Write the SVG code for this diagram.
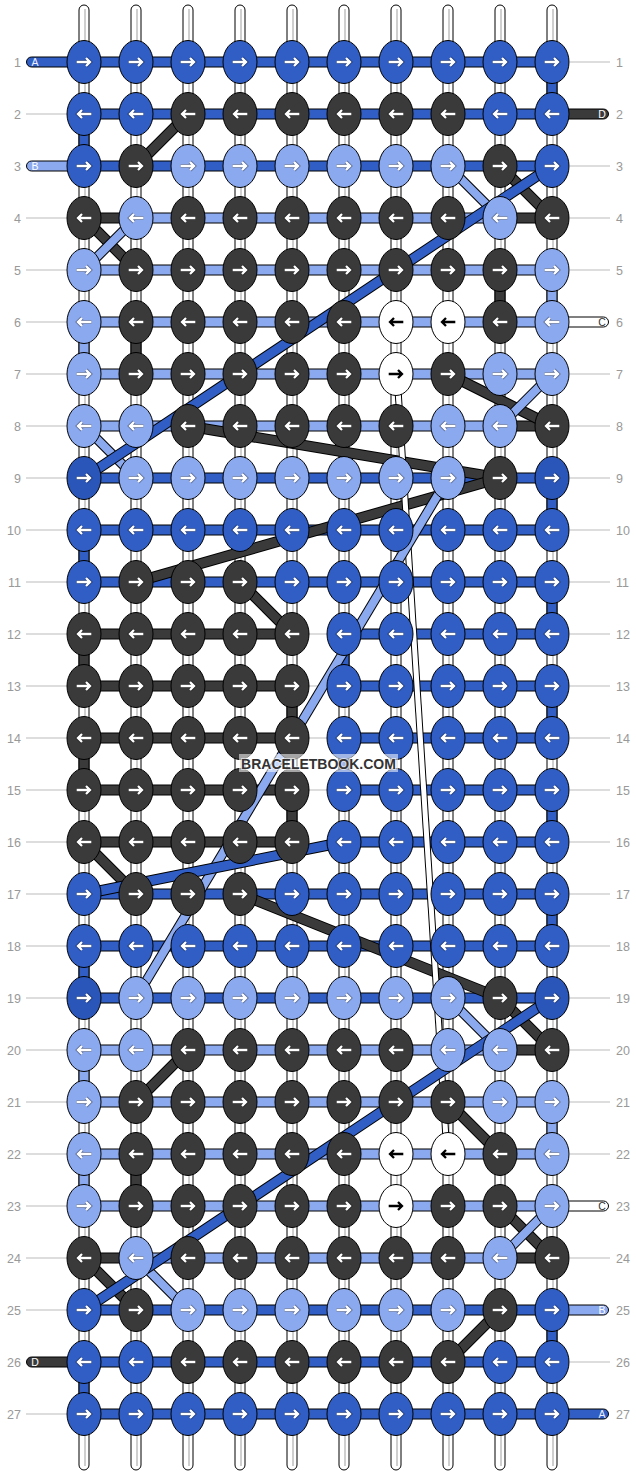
<svg xmlns="http://www.w3.org/2000/svg" xmlns:xlink="http://www.w3.org/1999/xlink" width="636" height="1476" viewBox="0 0 636 1476">
<style>
.b{fill:#305EC4}.k{fill:#3A3A3A}.l{fill:#8BA9EF}.w{fill:#fff}.d{fill:#2A55B9}
ellipse{stroke:#000;stroke-width:1}
.s{stroke:#000;stroke-width:1}
.warp{fill:#fff;stroke:#000;stroke-width:1}
.wl{stroke:#cfcfcf;stroke-width:2}
.ao{fill:none;stroke:#000;stroke-opacity:.35;stroke-width:4}
.aw{fill:none;stroke:#fff;stroke-width:2.3}
.ab{fill:none;stroke:#000;stroke-width:2.3}
.o{stroke:#000;stroke-width:11}
.oL{stroke:#000;stroke-width:10}
.cb{stroke:#305EC4;stroke-width:9}.ck{stroke:#3A3A3A;stroke-width:9}.cl{stroke:#8BA9EF;stroke-width:8}
.gl{stroke:#bbb;stroke-width:1}
.num{font-family:"Liberation Sans",Arial,sans-serif;font-size:12.5px;fill:#999}
.let{font-family:"Liberation Sans",Arial,sans-serif;font-size:10.5px;text-anchor:middle}
</style>
<defs>
<g id="R"><path class="ao" d="M-7.3 0H5.8M2 -4 6 0 2 4"/><path class="aw" d="M-7.3 0H5.8M2 -4 6 0 2 4"/></g>
<g id="L"><path class="ao" d="M7.3 0H-5.8M-2 -4 -6 0 -2 4"/><path class="aw" d="M7.3 0H-5.8M-2 -4 -6 0 -2 4"/></g>
<g id="Rb"><path class="ab" d="M-7.3 0H5.8M2 -4 6 0 2 4"/></g>
<g id="Lb"><path class="ab" d="M7.3 0H-5.8M-2 -4 -6 0 -2 4"/></g>
</defs>
<rect width="636" height="1476" fill="#fff"/>
<g id="labels">
<g class="gl">
<line x1="26" y1="114" x2="67" y2="114"/><line x1="26" y1="218" x2="67" y2="218"/><line x1="26" y1="270" x2="67" y2="270"/><line x1="26" y1="322" x2="67" y2="322"/><line x1="26" y1="374" x2="67" y2="374"/><line x1="26" y1="426" x2="67" y2="426"/><line x1="26" y1="478" x2="67" y2="478"/><line x1="26" y1="530" x2="67" y2="530"/><line x1="26" y1="582" x2="67" y2="582"/><line x1="26" y1="634" x2="67" y2="634"/><line x1="26" y1="686" x2="67" y2="686"/><line x1="26" y1="738" x2="67" y2="738"/><line x1="26" y1="790" x2="67" y2="790"/><line x1="26" y1="842" x2="67" y2="842"/><line x1="26" y1="894" x2="67" y2="894"/><line x1="26" y1="946" x2="67" y2="946"/><line x1="26" y1="998" x2="67" y2="998"/><line x1="26" y1="1050" x2="67" y2="1050"/><line x1="26" y1="1102" x2="67" y2="1102"/><line x1="26" y1="1154" x2="67" y2="1154"/><line x1="26" y1="1206" x2="67" y2="1206"/><line x1="26" y1="1258" x2="67" y2="1258"/><line x1="26" y1="1310" x2="67" y2="1310"/><line x1="26" y1="1414" x2="67" y2="1414"/>
<line x1="570" y1="62" x2="610" y2="62"/><line x1="570" y1="166" x2="610" y2="166"/><line x1="570" y1="218" x2="610" y2="218"/><line x1="570" y1="270" x2="610" y2="270"/><line x1="570" y1="374" x2="610" y2="374"/><line x1="570" y1="426" x2="610" y2="426"/><line x1="570" y1="478" x2="610" y2="478"/><line x1="570" y1="530" x2="610" y2="530"/><line x1="570" y1="582" x2="610" y2="582"/><line x1="570" y1="634" x2="610" y2="634"/><line x1="570" y1="686" x2="610" y2="686"/><line x1="570" y1="738" x2="610" y2="738"/><line x1="570" y1="790" x2="610" y2="790"/><line x1="570" y1="842" x2="610" y2="842"/><line x1="570" y1="894" x2="610" y2="894"/><line x1="570" y1="946" x2="610" y2="946"/><line x1="570" y1="998" x2="610" y2="998"/><line x1="570" y1="1050" x2="610" y2="1050"/><line x1="570" y1="1102" x2="610" y2="1102"/><line x1="570" y1="1154" x2="610" y2="1154"/><line x1="570" y1="1258" x2="610" y2="1258"/><line x1="570" y1="1362" x2="610" y2="1362"/>
</g>
<g class="num" text-anchor="end">
<text x="21" y="66.5">1</text><text x="21" y="118.5">2</text><text x="21" y="170.5">3</text><text x="21" y="222.5">4</text><text x="21" y="274.5">5</text><text x="21" y="326.5">6</text><text x="21" y="378.5">7</text><text x="21" y="430.5">8</text><text x="21" y="482.5">9</text><text x="21" y="534.5">10</text><text x="21" y="586.5">11</text><text x="21" y="638.5">12</text><text x="21" y="690.5">13</text><text x="21" y="742.5">14</text><text x="21" y="794.5">15</text><text x="21" y="846.5">16</text><text x="21" y="898.5">17</text><text x="21" y="950.5">18</text><text x="21" y="1002.5">19</text><text x="21" y="1054.5">20</text><text x="21" y="1106.5">21</text><text x="21" y="1158.5">22</text><text x="21" y="1210.5">23</text><text x="21" y="1262.5">24</text><text x="21" y="1314.5">25</text><text x="21" y="1366.5">26</text><text x="21" y="1418.5">27</text>
</g>
<g class="num">
<text x="616" y="66.5">1</text><text x="616" y="118.5">2</text><text x="616" y="170.5">3</text><text x="616" y="222.5">4</text><text x="616" y="274.5">5</text><text x="616" y="326.5">6</text><text x="616" y="378.5">7</text><text x="616" y="430.5">8</text><text x="616" y="482.5">9</text><text x="616" y="534.5">10</text><text x="616" y="586.5">11</text><text x="616" y="638.5">12</text><text x="616" y="690.5">13</text><text x="616" y="742.5">14</text><text x="616" y="794.5">15</text><text x="616" y="846.5">16</text><text x="616" y="898.5">17</text><text x="616" y="950.5">18</text><text x="616" y="1002.5">19</text><text x="616" y="1054.5">20</text><text x="616" y="1106.5">21</text><text x="616" y="1158.5">22</text><text x="616" y="1210.5">23</text><text x="616" y="1262.5">24</text><text x="616" y="1314.5">25</text><text x="616" y="1366.5">26</text><text x="616" y="1418.5">27</text>
</g>
</g>
<g id="connectors">
<g id="warps">
<rect class="warp" x="79" y="5" width="10" height="1465" rx="5"/><rect class="warp" x="131" y="5" width="10" height="1465" rx="5"/><rect class="warp" x="183" y="5" width="10" height="1465" rx="5"/><rect class="warp" x="235" y="5" width="10" height="1465" rx="5"/><rect class="warp" x="287" y="5" width="10" height="1465" rx="5"/><rect class="warp" x="339" y="5" width="10" height="1465" rx="5"/><rect class="warp" x="391" y="5" width="10" height="1465" rx="5"/><rect class="warp" x="443" y="5" width="10" height="1465" rx="5"/><rect class="warp" x="495" y="5" width="10" height="1465" rx="5"/><rect class="warp" x="547" y="5" width="10" height="1465" rx="5"/>
<g class="wl"><line x1="85" y1="9" x2="85" y2="1466"/><line x1="137" y1="9" x2="137" y2="1466"/><line x1="189" y1="9" x2="189" y2="1466"/><line x1="241" y1="9" x2="241" y2="1466"/><line x1="293" y1="9" x2="293" y2="1466"/><line x1="345" y1="9" x2="345" y2="1466"/><line x1="397" y1="9" x2="397" y2="1466"/><line x1="449" y1="9" x2="449" y2="1466"/><line x1="501" y1="9" x2="501" y2="1466"/><line x1="553" y1="9" x2="553" y2="1466"/></g>
</g>
<g id="ends">
<rect class="b s" x="26.5" y="57" width="60" height="10" rx="5"/><text class="let" x="35" y="65.8" fill="#eef">A</text>
<rect class="l s" x="26.5" y="161" width="60" height="10" rx="5"/><text class="let" x="35" y="169.8" fill="#fff">B</text>
<rect class="k s" x="26.5" y="1357" width="60" height="10" rx="5"/><text class="let" x="35" y="1365.8" fill="#fff">D</text>
<rect class="k s" x="549" y="109" width="59.5" height="10" rx="5"/><text class="let" x="602" y="117.8" fill="#fff">D</text>
<rect class="w s" x="549" y="317" width="59.5" height="10" rx="5"/><text class="let" x="602" y="325.8" fill="#333">C</text>
<rect class="w s" x="549" y="1201" width="59.5" height="10" rx="5"/><text class="let" x="602" y="1209.8" fill="#333">C</text>
<rect class="l s" x="549" y="1305" width="59.5" height="10" rx="5"/><text class="let" x="602" y="1313.8" fill="#fff">B</text>
<rect class="b s" x="549" y="1409" width="59.5" height="10" rx="5"/><text class="let" x="602" y="1417.8" fill="#eef">A</text>
</g>
<g id="rows">
<rect class="b s" x="84" y="57" width="468" height="10"/>
<rect class="b s" x="84" y="109" width="468" height="10"/>
<rect class="b s" x="84" y="161" width="468" height="10"/>
<rect class="k s" x="84" y="213" width="52" height="10"/><rect class="l s" x="136" y="213" width="364" height="10"/><rect class="k s" x="500" y="213" width="52" height="10"/>
<rect class="l s" x="84" y="265" width="468" height="10"/>
<rect class="l s" x="84" y="317" width="468" height="10"/>
<rect class="l s" x="84" y="369" width="468" height="10"/>
<rect class="l s" x="84" y="421" width="416" height="10"/><rect class="k s" x="500" y="421" width="52" height="10"/>
<rect class="b s" x="84" y="473" width="468" height="10"/>
<rect class="b s" x="84" y="525" width="468" height="10"/>
<rect class="b s" x="84" y="577" width="468" height="10"/>
<rect class="k s" x="84" y="629" width="208" height="10"/><rect class="b s" x="344" y="629" width="208" height="10"/>
<rect class="k s" x="84" y="681" width="208" height="10"/><rect class="b s" x="344" y="681" width="208" height="10"/>
<rect class="k s" x="84" y="733" width="208" height="10"/><rect class="b s" x="344" y="733" width="208" height="10"/>
<rect class="k s" x="84" y="785" width="208" height="10"/><rect class="b s" x="344" y="785" width="208" height="10"/>
<rect class="k s" x="84" y="837" width="208" height="10"/><rect class="b s" x="344" y="837" width="208" height="10"/>
<g class="gl"><line x1="292" y1="634" x2="344" y2="634"/><line x1="292" y1="686" x2="344" y2="686"/><line x1="292" y1="738" x2="344" y2="738"/><line x1="292" y1="790" x2="344" y2="790"/></g>
<rect class="b s" x="84" y="889" width="468" height="10"/>
<rect class="b s" x="84" y="941" width="468" height="10"/>
<rect class="b s" x="84" y="993" width="468" height="10"/>
<rect class="l s" x="84" y="1045" width="416" height="10"/><rect class="k s" x="500" y="1045" width="52" height="10"/>
<rect class="l s" x="84" y="1097" width="468" height="10"/>
<rect class="l s" x="84" y="1149" width="468" height="10"/>
<rect class="l s" x="84" y="1201" width="468" height="10"/>
<rect class="k s" x="84" y="1253" width="52" height="10"/><rect class="l s" x="136" y="1253" width="364" height="10"/><rect class="k s" x="500" y="1253" width="52" height="10"/>
<rect class="b s" x="84" y="1305" width="468" height="10"/>
<rect class="b s" x="84" y="1357" width="468" height="10"/>
<rect class="b s" x="84" y="1409" width="468" height="10"/>
</g>
<g id="verticals">
<rect class="b s" x="547" y="62" width="10" height="52"/>
<rect class="b s" x="79" y="114" width="10" height="52"/>
<rect class="k s" x="495" y="270" width="10" height="52"/>
<rect class="l s" x="547" y="270" width="10" height="52"/>
<rect class="l s" x="79" y="322" width="10" height="52"/>
<rect class="k s" x="131" y="322" width="10" height="52"/>
<rect class="b s" x="547" y="478" width="10" height="52"/>
<rect class="b s" x="79" y="530" width="10" height="52"/>
<rect class="b s" x="547" y="582" width="10" height="52"/>
<rect class="k s" x="79" y="634" width="10" height="52"/>
<rect class="b s" x="339" y="634" width="10" height="52"/>
<rect class="k s" x="287" y="686" width="10" height="52"/>
<rect class="b s" x="547" y="686" width="10" height="52"/>
<rect class="k s" x="79" y="738" width="10" height="52"/>
<rect class="b s" x="339" y="738" width="10" height="52"/>
<rect class="k s" x="287" y="790" width="10" height="52"/>
<rect class="b s" x="547" y="790" width="10" height="52"/>
<rect class="b s" x="547" y="894" width="10" height="52"/>
<rect class="b s" x="79" y="946" width="10" height="52"/>
<rect class="l s" x="79" y="1050" width="10" height="52"/>
<rect class="l s" x="547" y="1102" width="10" height="52"/>
<rect class="l s" x="79" y="1154" width="10" height="52"/>
<rect class="k s" x="131" y="1154" width="10" height="52"/>
<rect class="b s" x="547" y="1310" width="10" height="52"/>
<rect class="b s" x="79" y="1362" width="10" height="52"/>
</g>
<g id="diagonals">
<line class="o" x1="188" y1="114" x2="136" y2="166"/><line class="ck" x1="188" y1="114" x2="136" y2="166"/>
<line class="o" x1="500" y1="166" x2="552" y2="218"/><line class="ck" x1="500" y1="166" x2="552" y2="218"/>
<line class="o" x1="84" y1="218" x2="136" y2="270"/><line class="ck" x1="84" y1="218" x2="136" y2="270"/>
<line class="o" x1="448" y1="374" x2="552" y2="426"/><line class="ck" x1="448" y1="374" x2="552" y2="426"/>
<line class="o" x1="188" y1="426" x2="500" y2="478"/><line class="ck" x1="188" y1="426" x2="500" y2="478"/>
<line class="o" x1="500" y1="478" x2="136" y2="582"/><line class="ck" x1="500" y1="478" x2="136" y2="582"/>
<line class="o" x1="240" y1="582" x2="292" y2="634"/><line class="ck" x1="240" y1="582" x2="292" y2="634"/>
<line class="o" x1="84" y1="842" x2="136" y2="894"/><line class="ck" x1="84" y1="842" x2="136" y2="894"/>
<line class="o" x1="240" y1="894" x2="500" y2="998"/><line class="ck" x1="240" y1="894" x2="500" y2="998"/>
<line class="o" x1="500" y1="998" x2="552" y2="1050"/><line class="ck" x1="500" y1="998" x2="552" y2="1050"/>
<line class="o" x1="188" y1="1050" x2="136" y2="1102"/><line class="ck" x1="188" y1="1050" x2="136" y2="1102"/>
<line class="o" x1="448" y1="1102" x2="500" y2="1154"/><line class="ck" x1="448" y1="1102" x2="500" y2="1154"/>
<line class="o" x1="500" y1="1206" x2="552" y2="1258"/><line class="ck" x1="500" y1="1206" x2="552" y2="1258"/>
<line class="o" x1="84" y1="1258" x2="136" y2="1310"/><line class="ck" x1="84" y1="1258" x2="136" y2="1310"/>
<line class="o" x1="500" y1="1310" x2="448" y2="1362"/><line class="ck" x1="500" y1="1310" x2="448" y2="1362"/>
<line stroke="#000" stroke-width="7" x1="397" y1="374" x2="447" y2="1154"/><line stroke="#fff" stroke-width="5" x1="397" y1="374" x2="447" y2="1154"/>
<line class="oL" x1="448" y1="166" x2="500" y2="218"/><line class="cl" x1="448" y1="166" x2="500" y2="218"/>
<line class="oL" x1="136" y1="218" x2="84" y2="270"/><line class="cl" x1="136" y1="218" x2="84" y2="270"/>
<line class="oL" x1="552" y1="374" x2="500" y2="426"/><line class="cl" x1="552" y1="374" x2="500" y2="426"/>
<line class="oL" x1="84" y1="426" x2="136" y2="478"/><line class="cl" x1="84" y1="426" x2="136" y2="478"/>
<line class="oL" x1="448" y1="478" x2="136" y2="998"/><line class="cl" x1="448" y1="478" x2="136" y2="998"/>
<line class="oL" x1="448" y1="998" x2="500" y2="1050"/><line class="cl" x1="448" y1="998" x2="500" y2="1050"/>
<line class="oL" x1="552" y1="1206" x2="500" y2="1258"/><line class="cl" x1="552" y1="1206" x2="500" y2="1258"/>
<line class="oL" x1="136" y1="1258" x2="188" y2="1310"/><line class="cl" x1="136" y1="1258" x2="188" y2="1310"/>
<line class="o" x1="552" y1="166" x2="84" y2="478"/><line class="cb" x1="552" y1="166" x2="84" y2="478"/>
<line class="o" x1="344" y1="842" x2="84" y2="894"/><line class="cb" x1="344" y1="842" x2="84" y2="894"/>
<line class="o" x1="552" y1="998" x2="84" y2="1310"/><line class="cb" x1="552" y1="998" x2="84" y2="1310"/>
</g>
</g>
<g id="knots">
<g id="k1-1"><ellipse class="b" cx="84" cy="62" rx="17" ry="21.5"/><use href="#R" x="84" y="62"/></g>
<g id="k1-2"><ellipse class="b" cx="136" cy="62" rx="17" ry="21.5"/><use href="#R" x="136" y="62"/></g>
<g id="k1-3"><ellipse class="b" cx="188" cy="62" rx="17" ry="21.5"/><use href="#R" x="188" y="62"/></g>
<g id="k1-4"><ellipse class="b" cx="240" cy="62" rx="17" ry="21.5"/><use href="#R" x="240" y="62"/></g>
<g id="k1-5"><ellipse class="b" cx="292" cy="62" rx="17" ry="21.5"/><use href="#R" x="292" y="62"/></g>
<g id="k1-6"><ellipse class="b" cx="344" cy="62" rx="17" ry="21.5"/><use href="#R" x="344" y="62"/></g>
<g id="k1-7"><ellipse class="b" cx="396" cy="62" rx="17" ry="21.5"/><use href="#R" x="396" y="62"/></g>
<g id="k1-8"><ellipse class="b" cx="448" cy="62" rx="17" ry="21.5"/><use href="#R" x="448" y="62"/></g>
<g id="k1-9"><ellipse class="b" cx="500" cy="62" rx="17" ry="21.5"/><use href="#R" x="500" y="62"/></g>
<g id="k1-10"><ellipse class="b" cx="552" cy="62" rx="17" ry="21.5"/><use href="#R" x="552" y="62"/></g>
<g id="k2-1"><ellipse class="b" cx="84" cy="114" rx="17" ry="21.5"/><use href="#L" x="84" y="114"/></g>
<g id="k2-2"><ellipse class="b" cx="136" cy="114" rx="17" ry="21.5"/><use href="#L" x="136" y="114"/></g>
<g id="k2-3"><ellipse class="k" cx="188" cy="114" rx="17" ry="21.5"/><use href="#L" x="188" y="114"/></g>
<g id="k2-4"><ellipse class="k" cx="240" cy="114" rx="17" ry="21.5"/><use href="#L" x="240" y="114"/></g>
<g id="k2-5"><ellipse class="k" cx="292" cy="114" rx="17" ry="21.5"/><use href="#L" x="292" y="114"/></g>
<g id="k2-6"><ellipse class="k" cx="344" cy="114" rx="17" ry="21.5"/><use href="#L" x="344" y="114"/></g>
<g id="k2-7"><ellipse class="k" cx="396" cy="114" rx="17" ry="21.5"/><use href="#L" x="396" y="114"/></g>
<g id="k2-8"><ellipse class="k" cx="448" cy="114" rx="17" ry="21.5"/><use href="#L" x="448" y="114"/></g>
<g id="k2-9"><ellipse class="b" cx="500" cy="114" rx="17" ry="21.5"/><use href="#L" x="500" y="114"/></g>
<g id="k2-10"><ellipse class="b" cx="552" cy="114" rx="17" ry="21.5"/><use href="#L" x="552" y="114"/></g>
<g id="k3-1"><ellipse class="b" cx="84" cy="166" rx="17" ry="21.5"/><use href="#R" x="84" y="166"/></g>
<g id="k3-2"><ellipse class="k" cx="136" cy="166" rx="17" ry="21.5"/><use href="#R" x="136" y="166"/></g>
<g id="k3-3"><ellipse class="l" cx="188" cy="166" rx="17" ry="21.5"/><use href="#R" x="188" y="166"/></g>
<g id="k3-4"><ellipse class="l" cx="240" cy="166" rx="17" ry="21.5"/><use href="#R" x="240" y="166"/></g>
<g id="k3-5"><ellipse class="l" cx="292" cy="166" rx="17" ry="21.5"/><use href="#R" x="292" y="166"/></g>
<g id="k3-6"><ellipse class="l" cx="344" cy="166" rx="17" ry="21.5"/><use href="#R" x="344" y="166"/></g>
<g id="k3-7"><ellipse class="l" cx="396" cy="166" rx="17" ry="21.5"/><use href="#R" x="396" y="166"/></g>
<g id="k3-8"><ellipse class="l" cx="448" cy="166" rx="17" ry="21.5"/><use href="#R" x="448" y="166"/></g>
<g id="k3-9"><ellipse class="k" cx="500" cy="166" rx="17" ry="21.5"/><use href="#R" x="500" y="166"/></g>
<g id="k3-10"><ellipse class="b" cx="552" cy="166" rx="17" ry="21.5"/><use href="#R" x="552" y="166"/></g>
<g id="k4-1"><ellipse class="k" cx="84" cy="218" rx="17" ry="21.5"/><use href="#L" x="84" y="218"/></g>
<g id="k4-2"><ellipse class="l" cx="136" cy="218" rx="17" ry="21.5"/><use href="#L" x="136" y="218"/></g>
<g id="k4-3"><ellipse class="k" cx="188" cy="218" rx="17" ry="21.5"/><use href="#L" x="188" y="218"/></g>
<g id="k4-4"><ellipse class="k" cx="240" cy="218" rx="17" ry="21.5"/><use href="#L" x="240" y="218"/></g>
<g id="k4-5"><ellipse class="k" cx="292" cy="218" rx="17" ry="21.5"/><use href="#L" x="292" y="218"/></g>
<g id="k4-6"><ellipse class="k" cx="344" cy="218" rx="17" ry="21.5"/><use href="#L" x="344" y="218"/></g>
<g id="k4-7"><ellipse class="k" cx="396" cy="218" rx="17" ry="21.5"/><use href="#L" x="396" y="218"/></g>
<g id="k4-8"><ellipse class="k" cx="448" cy="218" rx="17" ry="21.5"/><use href="#L" x="448" y="218"/></g>
<g id="k4-9"><ellipse class="l" cx="500" cy="218" rx="17" ry="21.5"/><use href="#L" x="500" y="218"/></g>
<g id="k4-10"><ellipse class="k" cx="552" cy="218" rx="17" ry="21.5"/><use href="#L" x="552" y="218"/></g>
<g id="k5-1"><ellipse class="l" cx="84" cy="270" rx="17" ry="21.5"/><use href="#R" x="84" y="270"/></g>
<g id="k5-2"><ellipse class="k" cx="136" cy="270" rx="17" ry="21.5"/><use href="#R" x="136" y="270"/></g>
<g id="k5-3"><ellipse class="k" cx="188" cy="270" rx="17" ry="21.5"/><use href="#R" x="188" y="270"/></g>
<g id="k5-4"><ellipse class="k" cx="240" cy="270" rx="17" ry="21.5"/><use href="#R" x="240" y="270"/></g>
<g id="k5-5"><ellipse class="k" cx="292" cy="270" rx="17" ry="21.5"/><use href="#R" x="292" y="270"/></g>
<g id="k5-6"><ellipse class="k" cx="344" cy="270" rx="17" ry="21.5"/><use href="#R" x="344" y="270"/></g>
<g id="k5-7"><ellipse class="k" cx="396" cy="270" rx="17" ry="21.5"/><use href="#R" x="396" y="270"/></g>
<g id="k5-8"><ellipse class="k" cx="448" cy="270" rx="17" ry="21.5"/><use href="#R" x="448" y="270"/></g>
<g id="k5-9"><ellipse class="k" cx="500" cy="270" rx="17" ry="21.5"/><use href="#R" x="500" y="270"/></g>
<g id="k5-10"><ellipse class="l" cx="552" cy="270" rx="17" ry="21.5"/><use href="#R" x="552" y="270"/></g>
<g id="k6-1"><ellipse class="l" cx="84" cy="322" rx="17" ry="21.5"/><use href="#L" x="84" y="322"/></g>
<g id="k6-2"><ellipse class="k" cx="136" cy="322" rx="17" ry="21.5"/><use href="#L" x="136" y="322"/></g>
<g id="k6-3"><ellipse class="k" cx="188" cy="322" rx="17" ry="21.5"/><use href="#L" x="188" y="322"/></g>
<g id="k6-4"><ellipse class="k" cx="240" cy="322" rx="17" ry="21.5"/><use href="#L" x="240" y="322"/></g>
<g id="k6-5"><ellipse class="k" cx="292" cy="322" rx="17" ry="21.5"/><use href="#L" x="292" y="322"/></g>
<g id="k6-6"><ellipse class="k" cx="344" cy="322" rx="17" ry="21.5"/><use href="#L" x="344" y="322"/></g>
<g id="k6-7"><ellipse class="w" cx="396" cy="322" rx="17" ry="21.5"/><use href="#Lb" x="396" y="322"/></g>
<g id="k6-8"><ellipse class="w" cx="448" cy="322" rx="17" ry="21.5"/><use href="#Lb" x="448" y="322"/></g>
<g id="k6-9"><ellipse class="k" cx="500" cy="322" rx="17" ry="21.5"/><use href="#L" x="500" y="322"/></g>
<g id="k6-10"><ellipse class="l" cx="552" cy="322" rx="17" ry="21.5"/><use href="#L" x="552" y="322"/></g>
<g id="k7-1"><ellipse class="l" cx="84" cy="374" rx="17" ry="21.5"/><use href="#R" x="84" y="374"/></g>
<g id="k7-2"><ellipse class="k" cx="136" cy="374" rx="17" ry="21.5"/><use href="#R" x="136" y="374"/></g>
<g id="k7-3"><ellipse class="k" cx="188" cy="374" rx="17" ry="21.5"/><use href="#R" x="188" y="374"/></g>
<g id="k7-4"><ellipse class="k" cx="240" cy="374" rx="17" ry="21.5"/><use href="#R" x="240" y="374"/></g>
<g id="k7-5"><ellipse class="k" cx="292" cy="374" rx="17" ry="21.5"/><use href="#R" x="292" y="374"/></g>
<g id="k7-6"><ellipse class="k" cx="344" cy="374" rx="17" ry="21.5"/><use href="#R" x="344" y="374"/></g>
<g id="k7-7"><ellipse class="w" cx="396" cy="374" rx="17" ry="21.5"/><use href="#Rb" x="396" y="374"/></g>
<g id="k7-8"><ellipse class="k" cx="448" cy="374" rx="17" ry="21.5"/><use href="#R" x="448" y="374"/></g>
<g id="k7-9"><ellipse class="l" cx="500" cy="374" rx="17" ry="21.5"/><use href="#R" x="500" y="374"/></g>
<g id="k7-10"><ellipse class="l" cx="552" cy="374" rx="17" ry="21.5"/><use href="#R" x="552" y="374"/></g>
<g id="k8-1"><ellipse class="l" cx="84" cy="426" rx="17" ry="21.5"/><use href="#L" x="84" y="426"/></g>
<g id="k8-2"><ellipse class="l" cx="136" cy="426" rx="17" ry="21.5"/><use href="#L" x="136" y="426"/></g>
<g id="k8-3"><ellipse class="k" cx="188" cy="426" rx="17" ry="21.5"/><use href="#L" x="188" y="426"/></g>
<g id="k8-4"><ellipse class="k" cx="240" cy="426" rx="17" ry="21.5"/><use href="#L" x="240" y="426"/></g>
<g id="k8-5"><ellipse class="k" cx="292" cy="426" rx="17" ry="21.5"/><use href="#L" x="292" y="426"/></g>
<g id="k8-6"><ellipse class="k" cx="344" cy="426" rx="17" ry="21.5"/><use href="#L" x="344" y="426"/></g>
<g id="k8-7"><ellipse class="k" cx="396" cy="426" rx="17" ry="21.5"/><use href="#L" x="396" y="426"/></g>
<g id="k8-8"><ellipse class="l" cx="448" cy="426" rx="17" ry="21.5"/><use href="#L" x="448" y="426"/></g>
<g id="k8-9"><ellipse class="l" cx="500" cy="426" rx="17" ry="21.5"/><use href="#L" x="500" y="426"/></g>
<g id="k8-10"><ellipse class="k" cx="552" cy="426" rx="17" ry="21.5"/><use href="#L" x="552" y="426"/></g>
<g id="k9-1"><ellipse class="d" cx="84" cy="478" rx="17" ry="21.5"/><use href="#R" x="84" y="478"/></g>
<g id="k9-2"><ellipse class="l" cx="136" cy="478" rx="17" ry="21.5"/><use href="#R" x="136" y="478"/></g>
<g id="k9-3"><ellipse class="l" cx="188" cy="478" rx="17" ry="21.5"/><use href="#R" x="188" y="478"/></g>
<g id="k9-4"><ellipse class="l" cx="240" cy="478" rx="17" ry="21.5"/><use href="#R" x="240" y="478"/></g>
<g id="k9-5"><ellipse class="l" cx="292" cy="478" rx="17" ry="21.5"/><use href="#R" x="292" y="478"/></g>
<g id="k9-6"><ellipse class="l" cx="344" cy="478" rx="17" ry="21.5"/><use href="#R" x="344" y="478"/></g>
<g id="k9-7"><ellipse class="l" cx="396" cy="478" rx="17" ry="21.5"/><use href="#R" x="396" y="478"/></g>
<g id="k9-8"><ellipse class="l" cx="448" cy="478" rx="17" ry="21.5"/><use href="#R" x="448" y="478"/></g>
<g id="k9-9"><ellipse class="k" cx="500" cy="478" rx="17" ry="21.5"/><use href="#R" x="500" y="478"/></g>
<g id="k9-10"><ellipse class="d" cx="552" cy="478" rx="17" ry="21.5"/><use href="#R" x="552" y="478"/></g>
<g id="k10-1"><ellipse class="b" cx="84" cy="530" rx="17" ry="21.5"/><use href="#L" x="84" y="530"/></g>
<g id="k10-2"><ellipse class="b" cx="136" cy="530" rx="17" ry="21.5"/><use href="#L" x="136" y="530"/></g>
<g id="k10-3"><ellipse class="b" cx="188" cy="530" rx="17" ry="21.5"/><use href="#L" x="188" y="530"/></g>
<g id="k10-4"><ellipse class="b" cx="240" cy="530" rx="17" ry="21.5"/><use href="#L" x="240" y="530"/></g>
<g id="k10-5"><ellipse class="b" cx="292" cy="530" rx="17" ry="21.5"/><use href="#L" x="292" y="530"/></g>
<g id="k10-6"><ellipse class="b" cx="344" cy="530" rx="17" ry="21.5"/><use href="#L" x="344" y="530"/></g>
<g id="k10-7"><ellipse class="b" cx="396" cy="530" rx="17" ry="21.5"/><use href="#L" x="396" y="530"/></g>
<g id="k10-8"><ellipse class="b" cx="448" cy="530" rx="17" ry="21.5"/><use href="#L" x="448" y="530"/></g>
<g id="k10-9"><ellipse class="b" cx="500" cy="530" rx="17" ry="21.5"/><use href="#L" x="500" y="530"/></g>
<g id="k10-10"><ellipse class="b" cx="552" cy="530" rx="17" ry="21.5"/><use href="#L" x="552" y="530"/></g>
<g id="k11-1"><ellipse class="b" cx="84" cy="582" rx="17" ry="21.5"/><use href="#R" x="84" y="582"/></g>
<g id="k11-2"><ellipse class="k" cx="136" cy="582" rx="17" ry="21.5"/><use href="#R" x="136" y="582"/></g>
<g id="k11-3"><ellipse class="k" cx="188" cy="582" rx="17" ry="21.5"/><use href="#R" x="188" y="582"/></g>
<g id="k11-4"><ellipse class="k" cx="240" cy="582" rx="17" ry="21.5"/><use href="#R" x="240" y="582"/></g>
<g id="k11-5"><ellipse class="b" cx="292" cy="582" rx="17" ry="21.5"/><use href="#R" x="292" y="582"/></g>
<g id="k11-6"><ellipse class="b" cx="344" cy="582" rx="17" ry="21.5"/><use href="#R" x="344" y="582"/></g>
<g id="k11-7"><ellipse class="b" cx="396" cy="582" rx="17" ry="21.5"/><use href="#R" x="396" y="582"/></g>
<g id="k11-8"><ellipse class="b" cx="448" cy="582" rx="17" ry="21.5"/><use href="#R" x="448" y="582"/></g>
<g id="k11-9"><ellipse class="b" cx="500" cy="582" rx="17" ry="21.5"/><use href="#R" x="500" y="582"/></g>
<g id="k11-10"><ellipse class="b" cx="552" cy="582" rx="17" ry="21.5"/><use href="#R" x="552" y="582"/></g>
<g id="k12-1"><ellipse class="k" cx="84" cy="634" rx="17" ry="21.5"/><use href="#L" x="84" y="634"/></g>
<g id="k12-2"><ellipse class="k" cx="136" cy="634" rx="17" ry="21.5"/><use href="#L" x="136" y="634"/></g>
<g id="k12-3"><ellipse class="k" cx="188" cy="634" rx="17" ry="21.5"/><use href="#L" x="188" y="634"/></g>
<g id="k12-4"><ellipse class="k" cx="240" cy="634" rx="17" ry="21.5"/><use href="#L" x="240" y="634"/></g>
<g id="k12-5"><ellipse class="k" cx="292" cy="634" rx="17" ry="21.5"/><use href="#L" x="292" y="634"/></g>
<g id="k12-6"><ellipse class="b" cx="344" cy="634" rx="17" ry="21.5"/><use href="#L" x="344" y="634"/></g>
<g id="k12-7"><ellipse class="b" cx="396" cy="634" rx="17" ry="21.5"/><use href="#L" x="396" y="634"/></g>
<g id="k12-8"><ellipse class="b" cx="448" cy="634" rx="17" ry="21.5"/><use href="#L" x="448" y="634"/></g>
<g id="k12-9"><ellipse class="b" cx="500" cy="634" rx="17" ry="21.5"/><use href="#L" x="500" y="634"/></g>
<g id="k12-10"><ellipse class="b" cx="552" cy="634" rx="17" ry="21.5"/><use href="#L" x="552" y="634"/></g>
<g id="k13-1"><ellipse class="k" cx="84" cy="686" rx="17" ry="21.5"/><use href="#R" x="84" y="686"/></g>
<g id="k13-2"><ellipse class="k" cx="136" cy="686" rx="17" ry="21.5"/><use href="#R" x="136" y="686"/></g>
<g id="k13-3"><ellipse class="k" cx="188" cy="686" rx="17" ry="21.5"/><use href="#R" x="188" y="686"/></g>
<g id="k13-4"><ellipse class="k" cx="240" cy="686" rx="17" ry="21.5"/><use href="#R" x="240" y="686"/></g>
<g id="k13-5"><ellipse class="k" cx="292" cy="686" rx="17" ry="21.5"/><use href="#R" x="292" y="686"/></g>
<g id="k13-6"><ellipse class="b" cx="344" cy="686" rx="17" ry="21.5"/><use href="#R" x="344" y="686"/></g>
<g id="k13-7"><ellipse class="b" cx="396" cy="686" rx="17" ry="21.5"/><use href="#R" x="396" y="686"/></g>
<g id="k13-8"><ellipse class="b" cx="448" cy="686" rx="17" ry="21.5"/><use href="#R" x="448" y="686"/></g>
<g id="k13-9"><ellipse class="b" cx="500" cy="686" rx="17" ry="21.5"/><use href="#R" x="500" y="686"/></g>
<g id="k13-10"><ellipse class="b" cx="552" cy="686" rx="17" ry="21.5"/><use href="#R" x="552" y="686"/></g>
<g id="k14-1"><ellipse class="k" cx="84" cy="738" rx="17" ry="21.5"/><use href="#L" x="84" y="738"/></g>
<g id="k14-2"><ellipse class="k" cx="136" cy="738" rx="17" ry="21.5"/><use href="#L" x="136" y="738"/></g>
<g id="k14-3"><ellipse class="k" cx="188" cy="738" rx="17" ry="21.5"/><use href="#L" x="188" y="738"/></g>
<g id="k14-4"><ellipse class="k" cx="240" cy="738" rx="17" ry="21.5"/><use href="#L" x="240" y="738"/></g>
<g id="k14-5"><ellipse class="k" cx="292" cy="738" rx="17" ry="21.5"/><use href="#L" x="292" y="738"/></g>
<g id="k14-6"><ellipse class="b" cx="344" cy="738" rx="17" ry="21.5"/><use href="#L" x="344" y="738"/></g>
<g id="k14-7"><ellipse class="b" cx="396" cy="738" rx="17" ry="21.5"/><use href="#L" x="396" y="738"/></g>
<g id="k14-8"><ellipse class="b" cx="448" cy="738" rx="17" ry="21.5"/><use href="#L" x="448" y="738"/></g>
<g id="k14-9"><ellipse class="b" cx="500" cy="738" rx="17" ry="21.5"/><use href="#L" x="500" y="738"/></g>
<g id="k14-10"><ellipse class="b" cx="552" cy="738" rx="17" ry="21.5"/><use href="#L" x="552" y="738"/></g>
<g id="k15-1"><ellipse class="k" cx="84" cy="790" rx="17" ry="21.5"/><use href="#R" x="84" y="790"/></g>
<g id="k15-2"><ellipse class="k" cx="136" cy="790" rx="17" ry="21.5"/><use href="#R" x="136" y="790"/></g>
<g id="k15-3"><ellipse class="k" cx="188" cy="790" rx="17" ry="21.5"/><use href="#R" x="188" y="790"/></g>
<g id="k15-4"><ellipse class="k" cx="240" cy="790" rx="17" ry="21.5"/><use href="#R" x="240" y="790"/></g>
<g id="k15-5"><ellipse class="k" cx="292" cy="790" rx="17" ry="21.5"/><use href="#R" x="292" y="790"/></g>
<g id="k15-6"><ellipse class="b" cx="344" cy="790" rx="17" ry="21.5"/><use href="#R" x="344" y="790"/></g>
<g id="k15-7"><ellipse class="b" cx="396" cy="790" rx="17" ry="21.5"/><use href="#R" x="396" y="790"/></g>
<g id="k15-8"><ellipse class="b" cx="448" cy="790" rx="17" ry="21.5"/><use href="#R" x="448" y="790"/></g>
<g id="k15-9"><ellipse class="b" cx="500" cy="790" rx="17" ry="21.5"/><use href="#R" x="500" y="790"/></g>
<g id="k15-10"><ellipse class="b" cx="552" cy="790" rx="17" ry="21.5"/><use href="#R" x="552" y="790"/></g>
<g id="k16-1"><ellipse class="k" cx="84" cy="842" rx="17" ry="21.5"/><use href="#L" x="84" y="842"/></g>
<g id="k16-2"><ellipse class="k" cx="136" cy="842" rx="17" ry="21.5"/><use href="#L" x="136" y="842"/></g>
<g id="k16-3"><ellipse class="k" cx="188" cy="842" rx="17" ry="21.5"/><use href="#L" x="188" y="842"/></g>
<g id="k16-4"><ellipse class="k" cx="240" cy="842" rx="17" ry="21.5"/><use href="#L" x="240" y="842"/></g>
<g id="k16-5"><ellipse class="k" cx="292" cy="842" rx="17" ry="21.5"/><use href="#L" x="292" y="842"/></g>
<g id="k16-6"><ellipse class="b" cx="344" cy="842" rx="17" ry="21.5"/><use href="#L" x="344" y="842"/></g>
<g id="k16-7"><ellipse class="b" cx="396" cy="842" rx="17" ry="21.5"/><use href="#L" x="396" y="842"/></g>
<g id="k16-8"><ellipse class="b" cx="448" cy="842" rx="17" ry="21.5"/><use href="#L" x="448" y="842"/></g>
<g id="k16-9"><ellipse class="b" cx="500" cy="842" rx="17" ry="21.5"/><use href="#L" x="500" y="842"/></g>
<g id="k16-10"><ellipse class="b" cx="552" cy="842" rx="17" ry="21.5"/><use href="#L" x="552" y="842"/></g>
<g id="k17-1"><ellipse class="b" cx="84" cy="894" rx="17" ry="21.5"/><use href="#R" x="84" y="894"/></g>
<g id="k17-2"><ellipse class="k" cx="136" cy="894" rx="17" ry="21.5"/><use href="#R" x="136" y="894"/></g>
<g id="k17-3"><ellipse class="k" cx="188" cy="894" rx="17" ry="21.5"/><use href="#R" x="188" y="894"/></g>
<g id="k17-4"><ellipse class="k" cx="240" cy="894" rx="17" ry="21.5"/><use href="#R" x="240" y="894"/></g>
<g id="k17-5"><ellipse class="b" cx="292" cy="894" rx="17" ry="21.5"/><use href="#R" x="292" y="894"/></g>
<g id="k17-6"><ellipse class="b" cx="344" cy="894" rx="17" ry="21.5"/><use href="#R" x="344" y="894"/></g>
<g id="k17-7"><ellipse class="b" cx="396" cy="894" rx="17" ry="21.5"/><use href="#R" x="396" y="894"/></g>
<g id="k17-8"><ellipse class="b" cx="448" cy="894" rx="17" ry="21.5"/><use href="#R" x="448" y="894"/></g>
<g id="k17-9"><ellipse class="b" cx="500" cy="894" rx="17" ry="21.5"/><use href="#R" x="500" y="894"/></g>
<g id="k17-10"><ellipse class="b" cx="552" cy="894" rx="17" ry="21.5"/><use href="#R" x="552" y="894"/></g>
<g id="k18-1"><ellipse class="b" cx="84" cy="946" rx="17" ry="21.5"/><use href="#L" x="84" y="946"/></g>
<g id="k18-2"><ellipse class="b" cx="136" cy="946" rx="17" ry="21.5"/><use href="#L" x="136" y="946"/></g>
<g id="k18-3"><ellipse class="b" cx="188" cy="946" rx="17" ry="21.5"/><use href="#L" x="188" y="946"/></g>
<g id="k18-4"><ellipse class="b" cx="240" cy="946" rx="17" ry="21.5"/><use href="#L" x="240" y="946"/></g>
<g id="k18-5"><ellipse class="b" cx="292" cy="946" rx="17" ry="21.5"/><use href="#L" x="292" y="946"/></g>
<g id="k18-6"><ellipse class="b" cx="344" cy="946" rx="17" ry="21.5"/><use href="#L" x="344" y="946"/></g>
<g id="k18-7"><ellipse class="b" cx="396" cy="946" rx="17" ry="21.5"/><use href="#L" x="396" y="946"/></g>
<g id="k18-8"><ellipse class="b" cx="448" cy="946" rx="17" ry="21.5"/><use href="#L" x="448" y="946"/></g>
<g id="k18-9"><ellipse class="b" cx="500" cy="946" rx="17" ry="21.5"/><use href="#L" x="500" y="946"/></g>
<g id="k18-10"><ellipse class="b" cx="552" cy="946" rx="17" ry="21.5"/><use href="#L" x="552" y="946"/></g>
<g id="k19-1"><ellipse class="d" cx="84" cy="998" rx="17" ry="21.5"/><use href="#R" x="84" y="998"/></g>
<g id="k19-2"><ellipse class="l" cx="136" cy="998" rx="17" ry="21.5"/><use href="#R" x="136" y="998"/></g>
<g id="k19-3"><ellipse class="l" cx="188" cy="998" rx="17" ry="21.5"/><use href="#R" x="188" y="998"/></g>
<g id="k19-4"><ellipse class="l" cx="240" cy="998" rx="17" ry="21.5"/><use href="#R" x="240" y="998"/></g>
<g id="k19-5"><ellipse class="l" cx="292" cy="998" rx="17" ry="21.5"/><use href="#R" x="292" y="998"/></g>
<g id="k19-6"><ellipse class="l" cx="344" cy="998" rx="17" ry="21.5"/><use href="#R" x="344" y="998"/></g>
<g id="k19-7"><ellipse class="l" cx="396" cy="998" rx="17" ry="21.5"/><use href="#R" x="396" y="998"/></g>
<g id="k19-8"><ellipse class="l" cx="448" cy="998" rx="17" ry="21.5"/><use href="#R" x="448" y="998"/></g>
<g id="k19-9"><ellipse class="k" cx="500" cy="998" rx="17" ry="21.5"/><use href="#R" x="500" y="998"/></g>
<g id="k19-10"><ellipse class="d" cx="552" cy="998" rx="17" ry="21.5"/><use href="#R" x="552" y="998"/></g>
<g id="k20-1"><ellipse class="l" cx="84" cy="1050" rx="17" ry="21.5"/><use href="#L" x="84" y="1050"/></g>
<g id="k20-2"><ellipse class="l" cx="136" cy="1050" rx="17" ry="21.5"/><use href="#L" x="136" y="1050"/></g>
<g id="k20-3"><ellipse class="k" cx="188" cy="1050" rx="17" ry="21.5"/><use href="#L" x="188" y="1050"/></g>
<g id="k20-4"><ellipse class="k" cx="240" cy="1050" rx="17" ry="21.5"/><use href="#L" x="240" y="1050"/></g>
<g id="k20-5"><ellipse class="k" cx="292" cy="1050" rx="17" ry="21.5"/><use href="#L" x="292" y="1050"/></g>
<g id="k20-6"><ellipse class="k" cx="344" cy="1050" rx="17" ry="21.5"/><use href="#L" x="344" y="1050"/></g>
<g id="k20-7"><ellipse class="k" cx="396" cy="1050" rx="17" ry="21.5"/><use href="#L" x="396" y="1050"/></g>
<g id="k20-8"><ellipse class="l" cx="448" cy="1050" rx="17" ry="21.5"/><use href="#L" x="448" y="1050"/></g>
<g id="k20-9"><ellipse class="l" cx="500" cy="1050" rx="17" ry="21.5"/><use href="#L" x="500" y="1050"/></g>
<g id="k20-10"><ellipse class="k" cx="552" cy="1050" rx="17" ry="21.5"/><use href="#L" x="552" y="1050"/></g>
<g id="k21-1"><ellipse class="l" cx="84" cy="1102" rx="17" ry="21.5"/><use href="#R" x="84" y="1102"/></g>
<g id="k21-2"><ellipse class="k" cx="136" cy="1102" rx="17" ry="21.5"/><use href="#R" x="136" y="1102"/></g>
<g id="k21-3"><ellipse class="k" cx="188" cy="1102" rx="17" ry="21.5"/><use href="#R" x="188" y="1102"/></g>
<g id="k21-4"><ellipse class="k" cx="240" cy="1102" rx="17" ry="21.5"/><use href="#R" x="240" y="1102"/></g>
<g id="k21-5"><ellipse class="k" cx="292" cy="1102" rx="17" ry="21.5"/><use href="#R" x="292" y="1102"/></g>
<g id="k21-6"><ellipse class="k" cx="344" cy="1102" rx="17" ry="21.5"/><use href="#R" x="344" y="1102"/></g>
<g id="k21-7"><ellipse class="k" cx="396" cy="1102" rx="17" ry="21.5"/><use href="#R" x="396" y="1102"/></g>
<g id="k21-8"><ellipse class="k" cx="448" cy="1102" rx="17" ry="21.5"/><use href="#R" x="448" y="1102"/></g>
<g id="k21-9"><ellipse class="l" cx="500" cy="1102" rx="17" ry="21.5"/><use href="#R" x="500" y="1102"/></g>
<g id="k21-10"><ellipse class="l" cx="552" cy="1102" rx="17" ry="21.5"/><use href="#R" x="552" y="1102"/></g>
<g id="k22-1"><ellipse class="l" cx="84" cy="1154" rx="17" ry="21.5"/><use href="#L" x="84" y="1154"/></g>
<g id="k22-2"><ellipse class="k" cx="136" cy="1154" rx="17" ry="21.5"/><use href="#L" x="136" y="1154"/></g>
<g id="k22-3"><ellipse class="k" cx="188" cy="1154" rx="17" ry="21.5"/><use href="#L" x="188" y="1154"/></g>
<g id="k22-4"><ellipse class="k" cx="240" cy="1154" rx="17" ry="21.5"/><use href="#L" x="240" y="1154"/></g>
<g id="k22-5"><ellipse class="k" cx="292" cy="1154" rx="17" ry="21.5"/><use href="#L" x="292" y="1154"/></g>
<g id="k22-6"><ellipse class="k" cx="344" cy="1154" rx="17" ry="21.5"/><use href="#L" x="344" y="1154"/></g>
<g id="k22-7"><ellipse class="w" cx="396" cy="1154" rx="17" ry="21.5"/><use href="#Lb" x="396" y="1154"/></g>
<g id="k22-8"><ellipse class="w" cx="448" cy="1154" rx="17" ry="21.5"/><use href="#Lb" x="448" y="1154"/></g>
<g id="k22-9"><ellipse class="k" cx="500" cy="1154" rx="17" ry="21.5"/><use href="#L" x="500" y="1154"/></g>
<g id="k22-10"><ellipse class="l" cx="552" cy="1154" rx="17" ry="21.5"/><use href="#L" x="552" y="1154"/></g>
<g id="k23-1"><ellipse class="l" cx="84" cy="1206" rx="17" ry="21.5"/><use href="#R" x="84" y="1206"/></g>
<g id="k23-2"><ellipse class="k" cx="136" cy="1206" rx="17" ry="21.5"/><use href="#R" x="136" y="1206"/></g>
<g id="k23-3"><ellipse class="k" cx="188" cy="1206" rx="17" ry="21.5"/><use href="#R" x="188" y="1206"/></g>
<g id="k23-4"><ellipse class="k" cx="240" cy="1206" rx="17" ry="21.5"/><use href="#R" x="240" y="1206"/></g>
<g id="k23-5"><ellipse class="k" cx="292" cy="1206" rx="17" ry="21.5"/><use href="#R" x="292" y="1206"/></g>
<g id="k23-6"><ellipse class="k" cx="344" cy="1206" rx="17" ry="21.5"/><use href="#R" x="344" y="1206"/></g>
<g id="k23-7"><ellipse class="w" cx="396" cy="1206" rx="17" ry="21.5"/><use href="#Rb" x="396" y="1206"/></g>
<g id="k23-8"><ellipse class="k" cx="448" cy="1206" rx="17" ry="21.5"/><use href="#R" x="448" y="1206"/></g>
<g id="k23-9"><ellipse class="k" cx="500" cy="1206" rx="17" ry="21.5"/><use href="#R" x="500" y="1206"/></g>
<g id="k23-10"><ellipse class="l" cx="552" cy="1206" rx="17" ry="21.5"/><use href="#R" x="552" y="1206"/></g>
<g id="k24-1"><ellipse class="k" cx="84" cy="1258" rx="17" ry="21.5"/><use href="#L" x="84" y="1258"/></g>
<g id="k24-2"><ellipse class="l" cx="136" cy="1258" rx="17" ry="21.5"/><use href="#L" x="136" y="1258"/></g>
<g id="k24-3"><ellipse class="k" cx="188" cy="1258" rx="17" ry="21.5"/><use href="#L" x="188" y="1258"/></g>
<g id="k24-4"><ellipse class="k" cx="240" cy="1258" rx="17" ry="21.5"/><use href="#L" x="240" y="1258"/></g>
<g id="k24-5"><ellipse class="k" cx="292" cy="1258" rx="17" ry="21.5"/><use href="#L" x="292" y="1258"/></g>
<g id="k24-6"><ellipse class="k" cx="344" cy="1258" rx="17" ry="21.5"/><use href="#L" x="344" y="1258"/></g>
<g id="k24-7"><ellipse class="k" cx="396" cy="1258" rx="17" ry="21.5"/><use href="#L" x="396" y="1258"/></g>
<g id="k24-8"><ellipse class="k" cx="448" cy="1258" rx="17" ry="21.5"/><use href="#L" x="448" y="1258"/></g>
<g id="k24-9"><ellipse class="l" cx="500" cy="1258" rx="17" ry="21.5"/><use href="#L" x="500" y="1258"/></g>
<g id="k24-10"><ellipse class="k" cx="552" cy="1258" rx="17" ry="21.5"/><use href="#L" x="552" y="1258"/></g>
<g id="k25-1"><ellipse class="b" cx="84" cy="1310" rx="17" ry="21.5"/><use href="#R" x="84" y="1310"/></g>
<g id="k25-2"><ellipse class="k" cx="136" cy="1310" rx="17" ry="21.5"/><use href="#R" x="136" y="1310"/></g>
<g id="k25-3"><ellipse class="l" cx="188" cy="1310" rx="17" ry="21.5"/><use href="#R" x="188" y="1310"/></g>
<g id="k25-4"><ellipse class="l" cx="240" cy="1310" rx="17" ry="21.5"/><use href="#R" x="240" y="1310"/></g>
<g id="k25-5"><ellipse class="l" cx="292" cy="1310" rx="17" ry="21.5"/><use href="#R" x="292" y="1310"/></g>
<g id="k25-6"><ellipse class="l" cx="344" cy="1310" rx="17" ry="21.5"/><use href="#R" x="344" y="1310"/></g>
<g id="k25-7"><ellipse class="l" cx="396" cy="1310" rx="17" ry="21.5"/><use href="#R" x="396" y="1310"/></g>
<g id="k25-8"><ellipse class="l" cx="448" cy="1310" rx="17" ry="21.5"/><use href="#R" x="448" y="1310"/></g>
<g id="k25-9"><ellipse class="k" cx="500" cy="1310" rx="17" ry="21.5"/><use href="#R" x="500" y="1310"/></g>
<g id="k25-10"><ellipse class="b" cx="552" cy="1310" rx="17" ry="21.5"/><use href="#R" x="552" y="1310"/></g>
<g id="k26-1"><ellipse class="b" cx="84" cy="1362" rx="17" ry="21.5"/><use href="#L" x="84" y="1362"/></g>
<g id="k26-2"><ellipse class="b" cx="136" cy="1362" rx="17" ry="21.5"/><use href="#L" x="136" y="1362"/></g>
<g id="k26-3"><ellipse class="k" cx="188" cy="1362" rx="17" ry="21.5"/><use href="#L" x="188" y="1362"/></g>
<g id="k26-4"><ellipse class="k" cx="240" cy="1362" rx="17" ry="21.5"/><use href="#L" x="240" y="1362"/></g>
<g id="k26-5"><ellipse class="k" cx="292" cy="1362" rx="17" ry="21.5"/><use href="#L" x="292" y="1362"/></g>
<g id="k26-6"><ellipse class="k" cx="344" cy="1362" rx="17" ry="21.5"/><use href="#L" x="344" y="1362"/></g>
<g id="k26-7"><ellipse class="k" cx="396" cy="1362" rx="17" ry="21.5"/><use href="#L" x="396" y="1362"/></g>
<g id="k26-8"><ellipse class="k" cx="448" cy="1362" rx="17" ry="21.5"/><use href="#L" x="448" y="1362"/></g>
<g id="k26-9"><ellipse class="b" cx="500" cy="1362" rx="17" ry="21.5"/><use href="#L" x="500" y="1362"/></g>
<g id="k26-10"><ellipse class="b" cx="552" cy="1362" rx="17" ry="21.5"/><use href="#L" x="552" y="1362"/></g>
<g id="k27-1"><ellipse class="b" cx="84" cy="1414" rx="17" ry="21.5"/><use href="#R" x="84" y="1414"/></g>
<g id="k27-2"><ellipse class="b" cx="136" cy="1414" rx="17" ry="21.5"/><use href="#R" x="136" y="1414"/></g>
<g id="k27-3"><ellipse class="b" cx="188" cy="1414" rx="17" ry="21.5"/><use href="#R" x="188" y="1414"/></g>
<g id="k27-4"><ellipse class="b" cx="240" cy="1414" rx="17" ry="21.5"/><use href="#R" x="240" y="1414"/></g>
<g id="k27-5"><ellipse class="b" cx="292" cy="1414" rx="17" ry="21.5"/><use href="#R" x="292" y="1414"/></g>
<g id="k27-6"><ellipse class="b" cx="344" cy="1414" rx="17" ry="21.5"/><use href="#R" x="344" y="1414"/></g>
<g id="k27-7"><ellipse class="b" cx="396" cy="1414" rx="17" ry="21.5"/><use href="#R" x="396" y="1414"/></g>
<g id="k27-8"><ellipse class="b" cx="448" cy="1414" rx="17" ry="21.5"/><use href="#R" x="448" y="1414"/></g>
<g id="k27-9"><ellipse class="b" cx="500" cy="1414" rx="17" ry="21.5"/><use href="#R" x="500" y="1414"/></g>
<g id="k27-10"><ellipse class="b" cx="552" cy="1414" rx="17" ry="21.5"/><use href="#R" x="552" y="1414"/></g>
</g>
<g id="watermark">
<rect x="239" y="754" width="159" height="18" fill="#fff" fill-opacity=".55"/>
<text x="318.5" y="768.5" text-anchor="middle" font-family="Liberation Sans, Arial, sans-serif" font-weight="bold" font-size="14" fill="#333" stroke="#fff" stroke-opacity=".6" stroke-width="2" paint-order="stroke">BRACELETBOOK.COM</text>
</g>
</svg>
